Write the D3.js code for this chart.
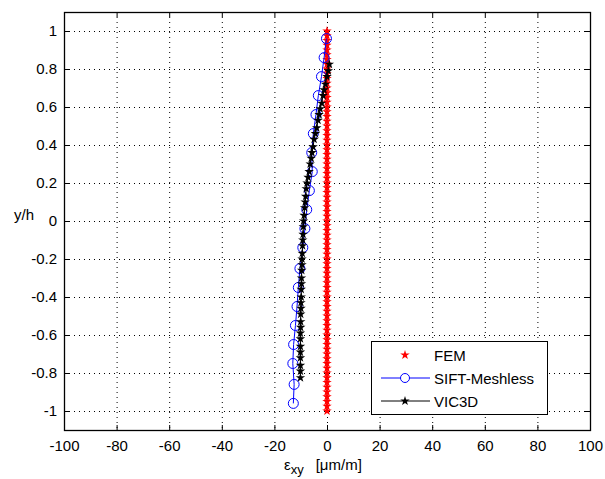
<!DOCTYPE html>
<html><head><meta charset="utf-8">
<script src="https://cdn.jsdelivr.net/npm/d3@7"></script>
<style>body{margin:0;background:#fff}svg text{font-family:"Liberation Sans",Arial,sans-serif}</style>
</head><body>
<svg id="c" width="605" height="479"></svg>
<script>
// ---- data ----
const xTicks = [-100,-80,-60,-40,-20,0,20,40,60,80,100];
const yTicks = [-1,-0.8,-0.6,-0.4,-0.2,0,0.2,0.4,0.6,0.8,1];
const seriesNames = ["FEM","SIFT-Meshless","VIC3D"];
const femY = [-1,-0.975,-0.95,-0.925,-0.9,-0.875,-0.85,-0.825,-0.8,-0.775,-0.75,-0.725,-0.7,-0.675,-0.65,-0.625,-0.6,-0.575,-0.55,-0.525,-0.5,-0.475,-0.45,-0.425,-0.4,-0.375,-0.35,-0.325,-0.3,-0.275,-0.25,-0.225,-0.2,-0.175,-0.15,-0.125,-0.1,-0.075,-0.05,-0.025,0,0.025,0.05,0.075,0.1,0.125,0.15,0.175,0.2,0.225,0.25,0.275,0.3,0.325,0.35,0.375,0.4,0.425,0.45,0.475,0.5,0.525,0.55,0.575,0.6,0.625,0.65,0.675,0.7,0.725,0.75,0.775,0.8,0.825,0.85,0.875,0.9,0.925,0.95,0.975,1];
const femX = [0,0,0,0,0,0,0,0,0,0,0,0,0,0,0,0,0,0,0,0,0,0,0,0,0,0,0,0,0,0,0,0,0,0,0,0,0,0,0,0,0,0,0,0,0,0,0,0,0,0,0,0,0,0,0,0,0,0,0,0,0,0,0,0,0,0,0,0,0,0,0,0,0,0,0,0,0,0,0,0,0];
const siftY = [0.96,0.86,0.76,0.66,0.56,0.46,0.36,0.26,0.16,0.06,-0.04,-0.14,-0.25,-0.35,-0.45,-0.55,-0.65,-0.75,-0.86,-0.96];
const siftX = [-0.2,-1.1,-2.1,-3.3,-4.2,-5.2,-5.8,-5.6,-6.7,-7.7,-8.4,-9.2,-10.3,-10.9,-11.4,-12.0,-12.7,-13.0,-12.5,-12.8];
const vicY = [0.825,0.79,0.76,0.72,0.69,0.66,0.62,0.59,0.56,0.53,0.49,0.46,0.43,0.39,0.36,0.33,0.30,0.26,0.23,0.20,0.17,0.13,0.10,0.07,0.03,0.00,-0.03,-0.07,-0.10,-0.13,-0.17,-0.20,-0.23,-0.26,-0.30,-0.33,-0.36,-0.40,-0.43,-0.46,-0.49,-0.53,-0.56,-0.59,-0.62,-0.66,-0.69,-0.72,-0.76,-0.79,-0.825];
const vicX = [0.9,0.5,0,-0.6,-1.1,-1.5,-2.0,-2.6,-3.0,-3.4,-3.9,-4.4,-4.9,-5.3,-5.7,-6.0,-6.4,-6.8,-7.2,-7.6,-7.9,-8.1,-8.3,-8.5,-8.7,-8.9,-9.0,-9.1,-9.2,-9.3,-9.4,-9.5,-9.5,-9.6,-9.7,-9.7,-9.8,-9.8,-9.9,-9.9,-10.0,-10.0,-10.0,-10.1,-10.1,-10.1,-10.1,-10.1,-10.1,-10.1,-10.1];

// ---- layout ----
const L=64,R=590,T=12,B=430;
const svg=d3.select("#c");
const x=d3.scaleLinear().domain([-100,100]).range([L,R]);
const y=d3.scaleLinear().domain([-1.1,1.1]).range([B,T]);
const fmt=d=>String(+(+d).toFixed(1));

// grid
const g=svg.append("g");
g.selectAll(".gx").data(xTicks.slice(1,-1)).join("line")
 .attr("x1",d=>x(d)+0.5).attr("x2",d=>x(d)+0.5).attr("y1",T).attr("y2",B)
 .attr("stroke","#000").attr("stroke-width",1).attr("stroke-dasharray","1,4");
g.selectAll(".gy").data(yTicks).join("line")
 .attr("y1",d=>Math.round(y(d))+0.5).attr("y2",d=>Math.round(y(d))+0.5).attr("x1",L).attr("x2",R)
 .attr("stroke","#000").attr("stroke-width",1).attr("stroke-dasharray","1,4");

// axes
const fs="15px";
const ax=svg.append("g").attr("transform",`translate(0,${B})`)
 .call(d3.axisBottom(x).tickValues(xTicks).tickSizeInner(-5).tickSizeOuter(0).tickPadding(10).tickFormat(fmt));
const axT=svg.append("g").attr("transform",`translate(0,${T})`)
 .call(d3.axisTop(x).tickValues(xTicks).tickSizeInner(-5).tickSizeOuter(0).tickFormat(""));
const ay=svg.append("g").attr("transform",`translate(${L},0)`)
 .call(d3.axisLeft(y).tickValues(yTicks).tickSizeInner(-5).tickSizeOuter(0).tickPadding(7).tickFormat(fmt));
const ayR=svg.append("g").attr("transform",`translate(${R},0)`)
 .call(d3.axisRight(y).tickValues(yTicks).tickSizeInner(-5).tickSizeOuter(0).tickFormat(""));
[ax,axT,ay,ayR].forEach(a=>{a.select(".domain").remove();a.selectAll("text").attr("font-size",fs).attr("fill","#000");a.selectAll("line").attr("stroke","#000");});
svg.append("rect").attr("x",L+0.5).attr("y",T+0.5).attr("width",R-L).attr("height",B-T)
 .attr("fill","none").attr("stroke","#000").attr("stroke-width",1.3);

// data
const fem=femY.map((v,i)=>[femX[i],v]);
const sift=siftY.map((v,i)=>[siftX[i],v]);
const vic=vicY.map((v,i)=>[vicX[i],v]);
const line=d3.line().x(d=>x(d[0])).y(d=>y(d[1]));
const star=d3.symbol().type(d3.symbolStar).size(28);

svg.append("g").selectAll("path").data(fem).join("path")
 .attr("d",star).attr("transform",d=>`translate(${x(d[0])},${y(d[1])})`).attr("fill","#ff0000");
svg.append("path").datum(sift).attr("d",line).attr("fill","none").attr("stroke","#0000ff").attr("stroke-width",1);
svg.append("g").selectAll("circle").data(sift).join("circle")
 .attr("cx",d=>x(d[0])).attr("cy",d=>y(d[1])).attr("r",5).attr("fill","none").attr("stroke","#0000ff").attr("stroke-width",1);
svg.append("path").datum(vic).attr("d",line).attr("fill","none").attr("stroke","#000").attr("stroke-width",1);
svg.append("g").selectAll("path").data(vic).join("path")
 .attr("d",star).attr("transform",d=>`translate(${x(d[0])},${y(d[1])})`).attr("fill","#000");

// labels
svg.append("text").attr("x",14).attr("y",220).attr("font-size",fs).text("y/h");
const xl=svg.append("text").attr("x",284).attr("y",470).attr("font-size",fs);
xl.append("tspan").text("ε");
xl.append("tspan").attr("dy",4).attr("font-size","13px").text("xy");
xl.append("tspan").attr("dy",-4).attr("dx",12).text("[μm/m]");

// legend
const lg=svg.append("g");
lg.append("rect").attr("x",371.5).attr("y",341.5).attr("width",176).attr("height",73)
 .attr("fill","#fff").attr("stroke","#000").attr("stroke-width",1);
const ly=[355,378,401];
const colors=["#ff0000","#0000ff","#000"];
seriesNames.forEach((n,i)=>{
  if(i>0) lg.append("line").attr("x1",381).attr("x2",430).attr("y1",ly[i]).attr("y2",ly[i]).attr("stroke",colors[i]).attr("stroke-width",1);
  if(i===1) lg.append("circle").attr("cx",405).attr("cy",ly[i]).attr("r",4.5).attr("fill","#fff").attr("stroke",colors[i]);
  else lg.append("path").attr("d",star).attr("transform",`translate(405,${ly[i]})`).attr("fill",colors[i]);
  lg.append("text").attr("x",434).attr("y",ly[i]+5.5).attr("font-size",fs).text(n);
});
</script>
</body></html>
